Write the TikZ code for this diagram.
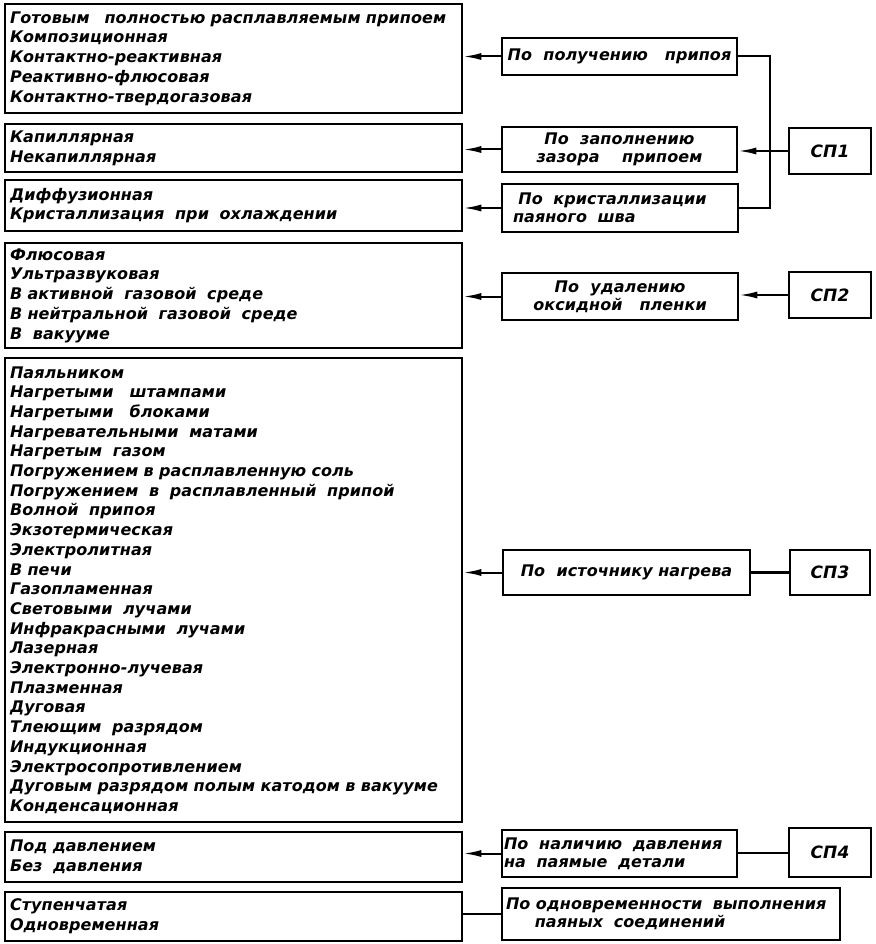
\documentclass[tikz,border=0pt]{standalone}
\usepackage{fontspec}
\setmainfont{DejaVu Sans}
\newfontfamily\gost{DejaVu Sans}[LetterSpace=0.5]
\usetikzlibrary{arrows.meta}
\begin{document}
\begin{tikzpicture}[x=1pt,y=-1pt,
  box/.style={draw, line width=2.5pt, inner sep=0pt, font=\gost\bfseries\itshape\fontsize{16}{19.7}\selectfont},
  lbox/.style={box, align=left, inner xsep=5pt, text width=447pt, minimum width=457pt},
  mbox/.style={box, font=\gost\bfseries\itshape\fontsize{16}{18}\selectfont},
  spbox/.style={box, minimum width=82pt, minimum height=46pt, font=\gost\bfseries\itshape\fontsize{17}{18}\selectfont},
  conn/.style={line width=2pt},
  arr/.style={conn, -{Latex[length=18pt,width=7pt]}}]
\useasboundingbox (0,0) rectangle (875,944);
% left boxes
\node[lbox, minimum height=109pt] (b1) at (233.5,58.5) {Готовым\hspace{0.6em} полностью расплавляемым припоем\\Композиционная\\Контактно-реактивная\\Реактивно-флюсовая\\Контактно-твердогазовая};
\node[lbox, minimum height=48pt] (b2) at (233.5,148) {Капиллярная\\Некапиллярная};
\node[lbox, minimum height=51pt] (b3) at (233.5,205.5) {Диффузионная\\Кристаллизация\ \ при\ \ охлаждении};
\node[lbox, minimum height=105pt] (b4) at (233.5,295.5) {Флюсовая\\Ультразвуковая\\В активной\ \ газовой\ \ среде\\В нейтральной\ \ газовой\ \ среде\\В\ \ вакууме};
\node[lbox, minimum height=464pt] (b5) at (233.5,590) {Паяльником\\Нагретыми\ \ \ штампами\\Нагретыми\ \ \ блоками\\Нагревательными\ \ матами\\Нагретым\ \ газом\\Погружением в расплавленную соль\\Погружением\ \ в\ \ расплавленный\ \ припой\\Волной\ \ припоя\\Экзотермическая\\Электролитная\\В печи\\Газопламенная\\Световыми\ \ лучами\\Инфракрасными\ \ лучами\\Лазерная\\Электронно-лучевая\\Плазменная\\Дуговая\\Тлеющим\ \ разрядом\\Индукционная\\Электросопротивлением\\Дуговым разрядом полым катодом в вакууме\\Конденсационная};
\node[lbox, minimum height=50pt] (b6) at (233.5,857) {Под давлением\\Без\ \ давления};
\node[lbox, minimum height=49pt] (b7) at (233.5,916.5) {Ступенчатая\\Одновременная};
% middle boxes
\node[mbox, minimum width=235pt, minimum height=37pt] (m1) at (619.5,56.5) {По\ \ получению\ \ \ припоя};
\node[mbox, minimum width=235pt, minimum height=45pt, align=center] (m2) at (619.5,149.5) {По\ \ заполнению\\зазора\ \ \ \ припоем};
\node[mbox, minimum width=236pt, minimum height=48pt, align=left, text width=214pt] (m3) at (620,208) {\ По\ \ кристаллизации\\паяного\ \ шва};
\node[mbox, minimum width=236pt, minimum height=47pt, align=center] (m4) at (620,296.5) {По\ \ удалению\\оксидной\ \ \ пленки};
\node[mbox, minimum width=247pt, minimum height=45pt] (m5) at (626.5,572.5) {По\ \ источнику нагрева};
\node[mbox, minimum width=235pt, minimum height=47pt, align=left, text width=231pt] (m6) at (619.5,853.5) {По\ \ наличию\ \ давления\\на\ \ паямые\ \ детали};
\node[mbox, minimum width=338pt, minimum height=52pt, align=left, text width=330pt] (m7) at (671,914) {По одновременности\ \ выполнения\\\hspace*{1.8em}паяных\ \ соединений};
% SP boxes
\node[spbox] (sp1) at (830,151) {СП1};
\node[spbox] (sp2) at (830,295) {СП2};
\node[spbox, minimum width=80pt, minimum height=45pt] (sp3) at (830,572.5) {СП3};
\node[spbox, minimum height=49pt] (sp4) at (830,852.5) {СП4};
% connectors
\coordinate (bus) at (770,0);
\draw[arr] (m1.west) -- (m1.west -| b1.east);
\draw[arr] (m2.west) -- (m2.west -| b2.east);
\draw[arr] (m3.west) -- (m3.west -| b3.east);
\draw[arr] (m4.west) -- (m4.west -| b4.east);
\draw[arr] (m5.west) -- (m5.west -| b5.east);
\draw[arr] (m6.west) -- (m6.west -| b6.east);
\draw[conn] (m7.west) -- (m7.west -| b7.east);
\draw[conn] (m1.east) -| (bus |- m3.east) -- (m3.east);
\draw[arr] (sp1.west) -- (sp1.west -| m2.east);
\draw[arr] (sp2.west) -- (sp2.west -| m4.east);
\draw[conn, line width=3.2pt] (sp3.west) -- (sp3.west -| m5.east);
\draw[conn] (sp4.west) -- (sp4.west -| m6.east);
\end{tikzpicture}
\end{document}
